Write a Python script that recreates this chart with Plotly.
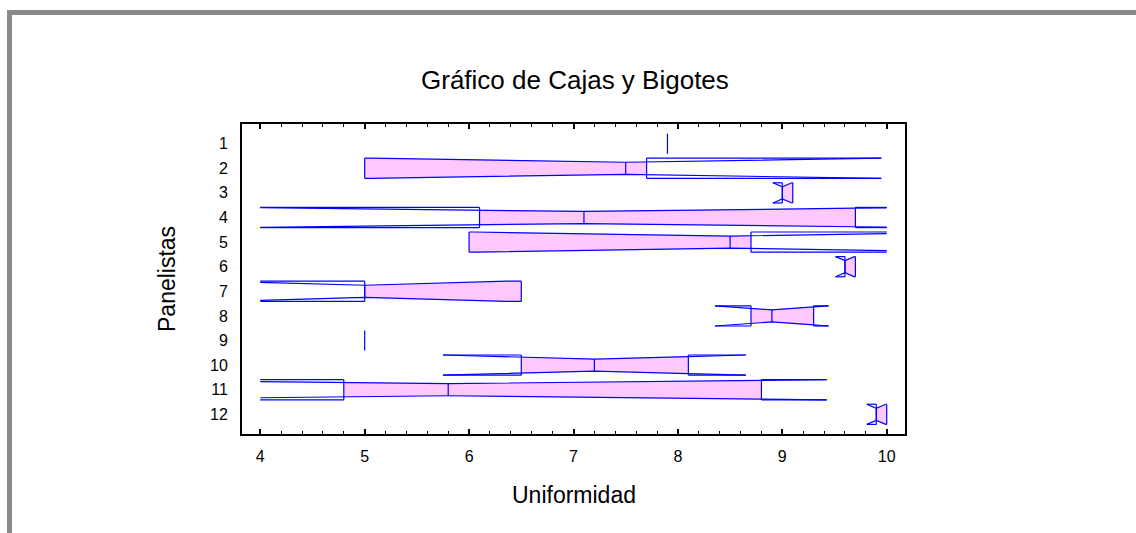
import math
import plotly.graph_objects as go

# Resumen por panelista (3 evaluaciones cada uno): mínimo/Q1, mediana, máximo/Q3
panelistas = list(range(1, 13))
cuartil_inf = [7.9, 5.0, 9.0, 6.1, 6.0, 9.6, 5.0, 8.7, 5.0, 6.5, 4.8, 9.9]
mediana = [7.9, 7.5, 9.0, 7.1, 8.5, 9.6, 5.0, 8.9, 5.0, 7.2, 5.8, 9.9]
cuartil_sup = [7.9, 7.7, 9.1, 9.7, 8.7, 9.7, 6.5, 9.3, 5.0, 8.1, 8.8, 10.0]
n_obs = 3

x_ticks = [4, 5, 6, 7, 8, 9, 10]
x_lim = (4.0, 10.0)

AZUL = "#0000ff"
ROSA = "#ffc8ff"
FUENTE = "Liberation Sans, Arial, sans-serif"

H = 0.41          # media altura de la caja
HN = 0.6 * H      # media altura en la mediana (muesca)

fig = go.Figure()


def perfil(x, med, d):
    """Media altura del contorno con muesca en la posición x."""
    if d <= 0:
        return H
    return min(H, HN + (H - HN) * abs(x - med) / d)


lx, ly = [], []
for p, q1, med, q3 in zip(panelistas, cuartil_inf, mediana, cuartil_sup):
    iqr = q3 - q1
    d = 1.57 * iqr / math.sqrt(n_obs)
    lo, hi = med - d, med + d

    if iqr <= 0:
        lx += [q1, q1, None]
        ly += [p - H, p + H, None]
        continue

    # relleno de la caja (entre Q1 y Q3) siguiendo la muesca
    xs = sorted({q1, q3, med} | {v for v in (lo, hi) if q1 < v < q3})
    top = [p - perfil(v, med, d) for v in xs]
    bot = [p + perfil(v, med, d) for v in xs]
    fig.add_trace(go.Scatter(
        x=xs + xs[::-1] + [xs[0]], y=top + bot[::-1] + [top[0]],
        mode="lines", fill="toself", fillcolor=ROSA,
        line=dict(width=0), hoverinfo="skip", showlegend=False))

    # contorno de la muesca, recortado al rango de la escala
    a = max(x_lim[0], min(lo, q1))
    b = min(x_lim[1], max(hi, q3))
    xs2 = sorted({a, b, med} | {v for v in (lo, hi, q1, q3) if a < v < b})
    for s in (-1, 1):
        lx += xs2 + [None]
        ly += [p + s * perfil(v, med, d) for v in xs2] + [None]

    # prolongaciones a altura completa fuera de la caja
    if a < q1:
        for s in (-1, 1):
            lx += [a, q1, None]
            ly += [p + s * H, p + s * H, None]
    if b > q3:
        for s in (-1, 1):
            lx += [q3, b, None]
            ly += [p + s * H, p + s * H, None]

    # lados de la caja y mediana
    for v in (q1, q3):
        lx += [v, v, None]
        ly += [p - H, p + H, None]
    lx += [med, med, None]
    ly += [p - HN, p + HN, None]

fig.add_trace(go.Scatter(x=lx, y=ly, mode="lines",
                         line=dict(color=AZUL, width=1.2),
                         hoverinfo="skip", showlegend=False))

# geometría del área de trazado (píxeles)
W, Hpx = 1136, 533
L, R, T, B = 242, 905, 124, 434
pw, ph = R - L, B - T


def px(xp):
    return (xp - L) / pw


def py(yp):
    return (B - yp) / ph


# marco gris exterior
gris = "#8a8a8a"
fig.add_shape(type="rect", xref="paper", yref="paper",
              x0=px(7), x1=px(1136), y0=py(15), y1=py(10),
              fillcolor=gris, line=dict(width=0), layer="above")
fig.add_shape(type="rect", xref="paper", yref="paper",
              x0=px(7), x1=px(12), y0=py(533), y1=py(10),
              fillcolor=gris, line=dict(width=0), layer="above")

fig.add_annotation(text="Gráfico de Cajas y Bigotes", xref="paper", yref="paper",
                   x=px(575), y=py(80), xanchor="center", yanchor="middle",
                   showarrow=False, font=dict(family=FUENTE, size=26, color="black"))
fig.add_annotation(text="Uniformidad", xref="paper", yref="paper",
                   x=px(574), y=py(495), xanchor="center", yanchor="middle",
                   showarrow=False, font=dict(family=FUENTE, size=23, color="black"))
fig.add_annotation(text="Panelistas", xref="paper", yref="paper",
                   x=px(167), y=py(279), xanchor="center", yanchor="middle",
                   textangle=-90, showarrow=False,
                   font=dict(family=FUENTE, size=23, color="black"))

fig.update_layout(
    width=W, height=Hpx,
    margin=dict(l=L, r=W - R, t=T, b=Hpx - B),
    paper_bgcolor="white", plot_bgcolor="white",
    font=dict(family=FUENTE, size=16, color="black"),
    showlegend=False,
)
fig.update_xaxes(
    range=[3.825, 10.175], tickvals=x_ticks, ticktext=[str(v) for v in x_ticks],
    ticks="inside", ticklen=5, tickwidth=1.5, tickcolor="black",
    minor=dict(dtick=0.2, tick0=4, ticks="inside", ticklen=3, tickwidth=1, tickcolor="black"),
    showline=True, linecolor="black", linewidth=2, mirror="allticks",
    showgrid=False, zeroline=False, ticklabelstandoff=7,
    tickfont=dict(family=FUENTE, size=16),
)
fig.update_yaxes(
    range=[12.8, 0.2], tickvals=panelistas, ticktext=[str(v) for v in panelistas],
    ticks="", showline=True, linecolor="black", linewidth=2, mirror=True,
    showgrid=False, zeroline=False, ticklabelstandoff=9,
    tickfont=dict(family=FUENTE, size=16),
)

fig.write_html("out.html")
